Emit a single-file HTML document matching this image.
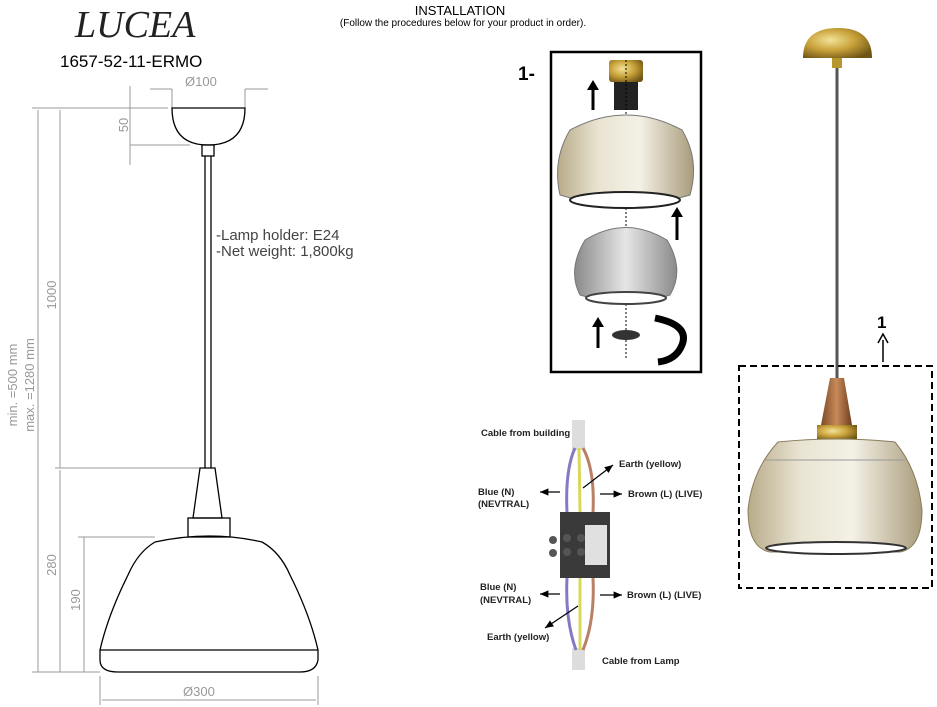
<!DOCTYPE html>
<html><head><meta charset="utf-8"><style>
body{margin:0;background:#fff}
svg{display:block}
</style></head><body>
<svg width="937" height="707" viewBox="0 0 937 707" xmlns="http://www.w3.org/2000/svg" font-family="Liberation Sans, sans-serif">
<defs>
<radialGradient id="gold" cx="40%" cy="40%" r="70%"><stop offset="0" stop-color="#f3e39a"/><stop offset="0.5" stop-color="#c9a23a"/><stop offset="1" stop-color="#6e5514"/></radialGradient>
<linearGradient id="glass" x1="0" y1="0" x2="1" y2="0"><stop offset="0" stop-color="#b8ab8a"/><stop offset="0.3" stop-color="#e9e4d2"/><stop offset="0.6" stop-color="#f4f1e6"/><stop offset="1" stop-color="#a99c7c"/></linearGradient>
<linearGradient id="wood" x1="0" y1="0" x2="1" y2="0"><stop offset="0" stop-color="#7a4a26"/><stop offset="0.5" stop-color="#c88a5a"/><stop offset="1" stop-color="#6e3e1e"/></linearGradient>
<linearGradient id="grey" x1="0" y1="0" x2="1" y2="0"><stop offset="0" stop-color="#8a8a8a"/><stop offset="0.5" stop-color="#e6e6e6"/><stop offset="1" stop-color="#8a8a8a"/></linearGradient>
<marker id="ah" markerWidth="8" markerHeight="8" refX="7" refY="4" orient="auto"><path d="M0,1 L7,4 L0,7z" fill="#999"/></marker>
<marker id="ab" markerWidth="8" markerHeight="8" refX="7" refY="4" orient="auto"><path d="M0,1 L7,4 L0,7z" fill="#000"/></marker>
</defs>
<text x="75" y="37" style="font-family:'Liberation Serif',serif;font-style:italic;font-size:38px" fill="#222">LUCEA</text>
<text x="60" y="67" font-size="17" fill="#000">1657-52-11-ERMO</text>
<text x="460" y="15" font-size="13" text-anchor="middle">INSTALLATION</text>
<text x="463" y="26" font-size="10" text-anchor="middle">(Follow the procedures below for your product in order).</text>
<g stroke="#999" stroke-width="1" fill="none">
<line x1="150" y1="89" x2="172" y2="89"/><line x1="245" y1="89" x2="268" y2="89"/>
<line x1="172" y1="89" x2="172" y2="108"/><line x1="245" y1="89" x2="245" y2="108"/>
<line x1="32" y1="108" x2="168" y2="108"/>
<line x1="130" y1="86" x2="130" y2="165"/>
<line x1="130" y1="145" x2="190" y2="145"/>
<line x1="38" y1="110" x2="38" y2="672"/>
<line x1="60" y1="110" x2="60" y2="468"/>
<line x1="55" y1="468" x2="200" y2="468"/>
<line x1="60" y1="470" x2="60" y2="672"/>
<line x1="84" y1="537" x2="84" y2="672"/>
<line x1="78" y1="537" x2="155" y2="537"/>
<line x1="32" y1="672" x2="100" y2="672"/>
<line x1="100" y1="676" x2="100" y2="705"/><line x1="318" y1="676" x2="318" y2="705"/>
<line x1="102" y1="700" x2="316" y2="700"/>
</g>
<g fill="#999" font-size="13">
<text x="185" y="86">Ø100</text>
<text x="128" y="125" transform="rotate(-90 128 125)" text-anchor="middle">50</text>
<text x="56" y="295" transform="rotate(-90 56 295)" text-anchor="middle">1000</text>
<text x="56" y="565" transform="rotate(-90 56 565)" text-anchor="middle">280</text>
<text x="80" y="600" transform="rotate(-90 80 600)" text-anchor="middle">190</text>
<text x="17" y="385" transform="rotate(-90 17 385)" text-anchor="middle">min. =500 mm</text>
<text x="34" y="385" transform="rotate(-90 34 385)" text-anchor="middle">max. =1280 mm</text>
<text x="183" y="696">Ø300</text>
</g>
<g stroke="#000" stroke-width="1.3" fill="none">
<path d="M172,108 L245,108 Q245,145 208,145 Q172,145 172,108Z"/>
<rect x="202" y="145" width="12" height="11"/>
<line x1="205" y1="156" x2="205" y2="468"/><line x1="211" y1="156" x2="211" y2="468"/>
<path d="M200,468 L215,468 L222,518 L193,518Z"/>
<rect x="188" y="518" width="42" height="19"/>
<path d="M155,542 Q210,530 262,542 Q280,552 290,575 Q310,615 318,650 L318,660 Q316,672 300,672 L118,672 Q100,672 100,660 L100,650 Q108,615 128,575 Q138,552 155,542Z"/>
<path d="M100,650 L318,650"/>
</g>
<text x="216" y="240" font-size="15" fill="#444">-Lamp holder: E24</text>
<text x="216" y="256" font-size="15" fill="#444">-Net weight: 1,800kg</text>
<text x="518" y="80" font-size="19" font-weight="bold">1-</text>
<rect x="551" y="52" width="150" height="320" fill="none" stroke="#000" stroke-width="2.5"/>
<rect x="609" y="60" width="34" height="22" rx="3" fill="url(#gold)"/>
<rect x="614" y="82" width="24" height="28" fill="#222"/>
<line x1="626" y1="60" x2="626" y2="360" stroke="#000" stroke-dasharray="2,2"/>
<path d="M570,130 Q626,100 682,130 Q700,160 690,195 Q626,215 560,195 Q552,160 570,130Z" fill="url(#glass)" stroke="#777"/>
<ellipse cx="625" cy="200" rx="55" ry="8" fill="#fff" stroke="#222" stroke-width="2"/>
<path d="M585,240 Q626,215 667,240 Q685,270 670,295 Q626,310 580,295 Q567,270 585,240Z" fill="url(#grey)" stroke="#777"/>
<ellipse cx="626" cy="298" rx="40" ry="6" fill="#fff" stroke="#444" stroke-width="2"/>
<ellipse cx="626" cy="335" rx="14" ry="5" fill="#333"/>
<g stroke="#000" stroke-width="3"><line x1="593" y1="110" x2="593" y2="88"/><line x1="677" y1="240" x2="677" y2="215"/><line x1="598" y1="348" x2="598" y2="325"/></g>
<g fill="#000"><path d="M587,90 L593,80 L599,90z"/><path d="M671,217 L677,207 L683,217z"/><path d="M592,327 L598,317 L604,327z"/></g>
<path d="M655,318 Q690,325 682,345 Q676,360 658,362" fill="none" stroke="#000" stroke-width="7"/>
<rect x="572" y="420" width="13" height="30" fill="#ddd"/>
<rect x="572" y="648" width="13" height="22" fill="#ddd"/>
<g fill="none" stroke-width="3">
<path d="M575,448 Q565,470 567,512 M567,578 Q565,620 576,650" stroke="#8579c4"/>
<path d="M579,448 L580,512 M580,578 L580,650" stroke="#d8d85a"/>
<path d="M583,448 Q595,470 593,512 M593,578 Q595,620 583,650" stroke="#b98066"/>
</g>
<rect x="560" y="512" width="50" height="66" fill="#3a3a3a"/>
<rect x="585" y="525" width="22" height="40" fill="#e0e0e0"/>
<g fill="#555"><circle cx="553" cy="540" r="4"/><circle cx="553" cy="553" r="4"/><circle cx="567" cy="538" r="4"/><circle cx="567" cy="552" r="4"/><circle cx="581" cy="538" r="4"/><circle cx="581" cy="552" r="4"/></g>
<g font-size="9.5" font-weight="bold" fill="#222">
<text x="481" y="436">Cable from building</text>
<text x="619" y="467">Earth (yellow)</text>
<text x="478" y="495">Blue (N)</text><text x="478" y="507">(NEVTRAL)</text>
<text x="628" y="497">Brown (L) (LIVE)</text>
<text x="480" y="590">Blue (N)</text><text x="480" y="603">(NEVTRAL)</text>
<text x="627" y="598">Brown (L) (LIVE)</text>
<text x="487" y="640">Earth (yellow)</text>
<text x="602" y="664">Cable from Lamp</text>
</g>
<g stroke="#000" stroke-width="1.2">
<line x1="560" y1="492" x2="540" y2="492" marker-end="url(#ab)"/>
<line x1="600" y1="494" x2="622" y2="494" marker-end="url(#ab)"/>
<line x1="583" y1="488" x2="613" y2="465" marker-end="url(#ab)"/>
<line x1="560" y1="594" x2="540" y2="594" marker-end="url(#ab)"/>
<line x1="600" y1="595" x2="622" y2="595" marker-end="url(#ab)"/>
<line x1="578" y1="606" x2="545" y2="628" marker-end="url(#ab)"/>
</g>
<path d="M803,58 Q803,28 838,28 Q872,28 872,58Z" fill="url(#gold)"/>
<rect x="832" y="58" width="10" height="10" fill="#b8962e"/>
<line x1="837" y1="68" x2="837" y2="378" stroke="#555" stroke-width="3"/>
<path d="M830,378 L844,378 L852,425 L821,425Z" fill="url(#wood)"/>
<rect x="817" y="425" width="40" height="15" fill="url(#gold)"/>
<path d="M778,442 Q836,436 895,442 Q918,470 922,510 Q922,548 900,552 L770,552 Q748,548 748,510 Q752,470 778,442Z" fill="url(#glass)" stroke="#8a7c5c"/>
<line x1="765" y1="460" x2="905" y2="460" stroke="#999"/>
<ellipse cx="836" cy="548" rx="70" ry="6" fill="#fff" stroke="#333" stroke-width="2"/>
<rect x="739" y="366" width="193" height="222" fill="none" stroke="#000" stroke-width="2" stroke-dasharray="7,4"/>
<text x="877" y="328" font-size="17" font-weight="bold">1</text>
<line x1="883" y1="362" x2="883" y2="340" stroke="#000" stroke-width="1.5"/>
<path d="M878,343 L883,334 L888,343" fill="none" stroke="#000" stroke-width="1.5"/>
</svg>
</body></html>
